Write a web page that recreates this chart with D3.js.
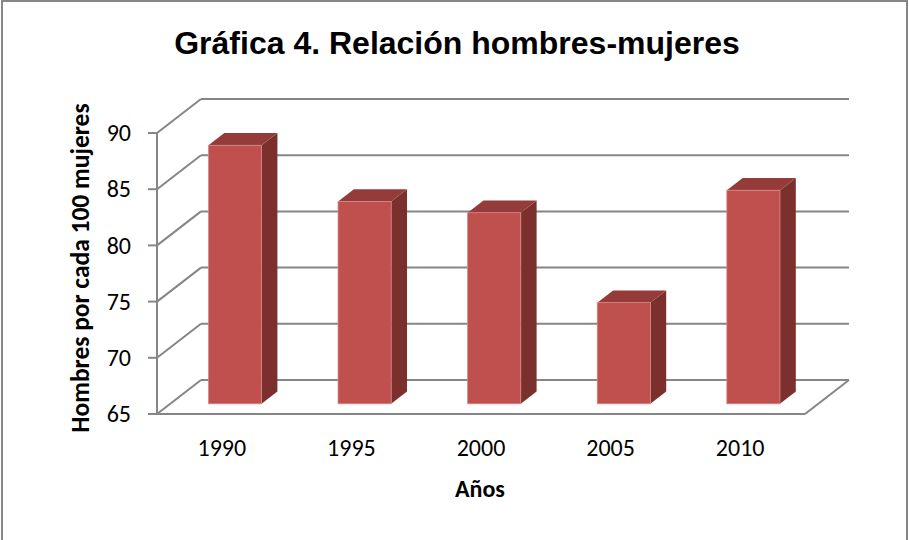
<!DOCTYPE html>
<html>
<head>
<meta charset="utf-8">
<script src="https://cdn.jsdelivr.net/npm/d3@7"></script>
<style>
  body { margin: 0; background: #fff; }
  svg text { font-family: Carlito, Calibri, Lato, sans-serif; fill: #000; }
</style>
</head>
<body>
<svg id="chart" width="909" height="540"></svg>
<script>
// Data
let years = ["1990", "1995", "2000", "2005", "2010"];
let values = [88, 83, 82, 74, 84];
let yTicks = [65, 70, 75, 80, 85, 90];

let svg = d3.select("#chart");

// Outer frame
svg.append("rect")
    .attr("x", 2).attr("y", 1)
    .attr("width", 905).attr("height", 545)
    .attr("fill", "none").attr("stroke", "#868686").attr("stroke-width", 2);

// Title
svg.append("text")
    .attr("x", 457).attr("y", 54)
    .attr("text-anchor", "middle")
    .style("font-family", "'Liberation Sans', Arial, sans-serif")
    .style("font-weight", "bold")
    .style("font-size", "32px")
    .text("Gráfica 4. Relación hombres-mujeres");

// Plot geometry (front plane + depth offset of the 3D box)
let left = 157, right = 805;
let depthX = 44, depthY = 34;

let x = d3.scaleBand().domain(years).range([left, right]);
let y = d3.scaleLinear().domain([65, 90]).range([414, 133]);

let gridColor = "#868686";
let grid = svg.append("g").attr("stroke", gridColor).attr("stroke-width", 2).attr("fill", "none");

// Back wall gridlines and side wall diagonals
yTicks.forEach(function(v) {
    grid.append("line")
        .attr("x1", left + depthX).attr("y1", y(v) - depthY)
        .attr("x2", right + depthX).attr("y2", y(v) - depthY);
    grid.append("line")
        .attr("x1", left).attr("y1", y(v))
        .attr("x2", left + depthX).attr("y2", y(v) - depthY);
});

// Floor front edge and right edge
grid.append("line")
    .attr("x1", left).attr("y1", y(65))
    .attr("x2", right).attr("y2", y(65));
grid.append("line")
    .attr("x1", right).attr("y1", y(65))
    .attr("x2", right + depthX).attr("y2", y(65) - depthY);

// 3D bars
let f0 = 0.3, f1 = 0.66;       // front / back depth of the bars
let barW = x.bandwidth() * 0.41;
let ox = depthX * f0, oy = depthY * f0;
let dx = depthX * (f1 - f0), dy = depthY * (f1 - f0);

let bars = svg.append("g").selectAll("g")
    .data(years)
    .enter().append("g");

bars.each(function(d, i) {
    let g = d3.select(this);
    let x0 = x(d) + x.bandwidth() / 2 - barW / 2 + ox;
    let x1 = x0 + barW;
    let yt = y(values[i]) - oy;
    let yb = y(65) - oy;

    // side
    g.append("polygon")
        .attr("points", [[x1, yt], [x1 + dx, yt - dy], [x1 + dx, yb - dy], [x1, yb]].join(" "))
        .attr("fill", "#7B302E");
    // top
    g.append("polygon")
        .attr("points", [[x0, yt], [x0 + dx, yt - dy], [x1 + dx, yt - dy], [x1, yt]].join(" "))
        .attr("fill", "#953B39");
    // front
    g.append("rect")
        .attr("x", x0).attr("y", yt)
        .attr("width", barW).attr("height", yb - yt)
        .attr("fill", "#C0504D")
        .attr("stroke", "#D58A88").attr("stroke-width", 0.8);
});

// Y axis (front edge) with ticks
let yAxis = svg.append("g").attr("stroke", gridColor).attr("stroke-width", 2);
yAxis.append("line")
    .attr("x1", left).attr("y1", y(90))
    .attr("x2", left).attr("y2", y(65));
yTicks.forEach(function(v) {
    yAxis.append("line")
        .attr("x1", left - 9).attr("y1", y(v))
        .attr("x2", left).attr("y2", y(v));
});

svg.append("g").selectAll("text")
    .data(yTicks)
    .enter().append("text")
    .attr("x", 131)
    .attr("y", function(d) { return y(d); })
    .attr("dy", "0.34em")
    .attr("text-anchor", "end")
    .style("font-size", "24px")
    .text(function(d) { return d; });

// X labels
svg.append("g").selectAll("text")
    .data(years)
    .enter().append("text")
    .attr("x", function(d) { return x(d) + x.bandwidth() / 2; })
    .attr("y", 456)
    .attr("text-anchor", "middle")
    .style("font-size", "24px")
    .text(function(d) { return d; });

// Axis titles
svg.append("text")
    .attr("x", 480).attr("y", 497)
    .attr("text-anchor", "middle")
    .style("font-size", "24px")
    .style("font-weight", "bold")
    .text("Años");

svg.append("text")
    .attr("transform", "translate(89,268) rotate(-90)")
    .attr("text-anchor", "middle")
    .style("font-size", "25.5px")
    .style("font-weight", "bold")
    .text("Hombres por cada 100 mujeres");
</script>
</body>
</html>
